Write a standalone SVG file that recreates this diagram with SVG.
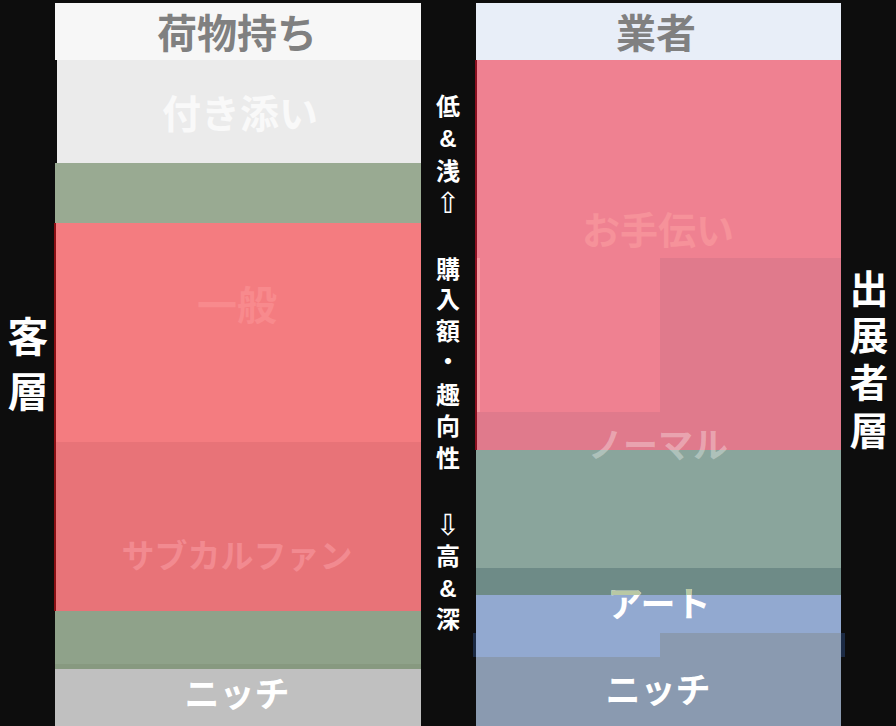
<svg xmlns="http://www.w3.org/2000/svg" width="896" height="726" viewBox="0 0 896 726">
<defs>
<style>
text{font-family:"Noto Sans CJK JP","Noto Sans",sans-serif;font-weight:700;text-anchor:middle}
.hd{font-size:40px;fill:#808080}
.side{font-size:39px;fill:#ffffff;font-family:"Liberation Sans","Noto Sans CJK JP",sans-serif}
.mid{font-size:24px;fill:#ffffff;font-family:"Liberation Sans","Noto Sans CJK JP",sans-serif}
.arr{font-family:"DejaVu Sans",sans-serif;font-weight:400;font-size:29px}
</style>
<clipPath id="band"><rect x="476" y="568" width="365" height="27"/></clipPath>
</defs>
<rect x="0" y="0" width="896" height="726" fill="#0d0d0d"/>

<g id="left-column">
<rect x="55" y="3" width="366" height="57" fill="#f7f7f7"/>
<rect x="57" y="60" width="364" height="103" fill="#ebebeb"/>
<rect x="55" y="163" width="366" height="60" fill="#99aa92"/>
<rect x="55" y="223" width="366" height="219" fill="#f47c80"/>
<rect x="55" y="442" width="366" height="169" fill="#e87378"/>
<rect x="55" y="611" width="366" height="58" fill="#8fa28a"/>
<rect x="55" y="664" width="366" height="5" fill="#879980"/>
<rect x="55" y="669" width="366" height="57" fill="#c0c0c0"/>
<rect x="54" y="223" width="2" height="388" fill="#8a0f14"/>
</g>

<g id="node-nimotsu"><text class="hd" x="237" y="48">荷物持ち</text></g>
<g id="node-tsukisoi"><text x="240" y="128" style="font-size:39px" fill="#f9f9f9">付き添い</text></g>
<g id="node-ippan"><text x="237" y="320" style="font-size:40px" fill="#f88a8d">一般</text></g>
<g id="node-subcul"><text x="237" y="568" style="font-size:33px" fill="#f28a90">サブカルファン</text></g>
<g id="node-niche-left"><text x="237" y="707" style="font-size:35px" fill="#ffffff">ニッチ</text></g>

<g id="right-column">
<rect x="473" y="633" width="372" height="24" fill="#1b2a44"/>
<rect x="476" y="3" width="365" height="57" fill="#e8eef8"/>
<rect x="476" y="258" width="365" height="192" fill="#e07a8c"/>
<path d="M476 60H841V258H660V412H476Z" fill="#ef8191"/>
<rect x="477" y="258" width="3" height="154" fill="#f59aa2"/>
<rect x="476" y="450" width="365" height="118" fill="#8aa59c"/>
<rect x="476" y="568" width="365" height="27" fill="#6e8b87"/>
<rect x="476" y="595" width="365" height="38" fill="#92a9d0"/>
<rect x="476" y="633" width="184" height="24" fill="#92a9d0"/>
<rect x="660" y="633" width="181" height="93" fill="#8a9ab0"/>
<rect x="476" y="657" width="184" height="69" fill="#8a9ab0"/>
<rect x="475" y="60" width="2" height="390" fill="#8a0f20"/>
</g>

<g id="node-gyosha"><text class="hd" x="656" y="48">業者</text></g>
<g id="node-otetsudai"><text x="658" y="244" style="font-size:38px" fill="#f6929a">お手伝い</text></g>
<g id="node-normal"><text x="658" y="458" style="font-size:35px" fill="#ffffff" fill-opacity="0.33">ノーマル</text></g>
<g id="node-art">
<text x="659" y="617" style="font-size:35px" fill="#ffffff">アート</text>
<text x="659" y="617" style="font-size:35px" fill="#b9c8a4" clip-path="url(#band)">アート</text>
</g>
<g id="node-niche-right"><text x="658" y="703" style="font-size:35px" fill="#ffffff">ニッチ</text></g>

<g id="label-left">
<text class="side" x="28" y="352" style="font-size:41px">客</text>
<text class="side" x="28" y="407" style="font-size:41px">層</text>
</g>
<g id="label-right">
<text class="side" x="869" y="303">出</text>
<text class="side" x="869" y="350">展</text>
<text class="side" x="869" y="397">者</text>
<text class="side" x="869" y="445">層</text>
</g>

<g id="axis-label">
<text class="mid" x="448" y="115">低</text>
<text class="mid" x="448" y="147">&amp;</text>
<text class="mid" x="448" y="180">浅</text>
<text class="mid arr" x="448" y="213">⇧</text>
<text class="mid" x="448" y="278">購</text>
<text class="mid" x="448" y="308">入</text>
<text class="mid" x="448" y="340">額</text>
<text class="mid" x="448" y="370">・</text>
<text class="mid" x="448" y="404">趣</text>
<text class="mid" x="448" y="435">向</text>
<text class="mid" x="448" y="467">性</text>
<text class="mid arr" x="448" y="535">⇩</text>
<text class="mid" x="448" y="565">高</text>
<text class="mid" x="448" y="597">&amp;</text>
<text class="mid" x="448" y="628">深</text>
</g>

<g id="connectors"></g>
</svg>
